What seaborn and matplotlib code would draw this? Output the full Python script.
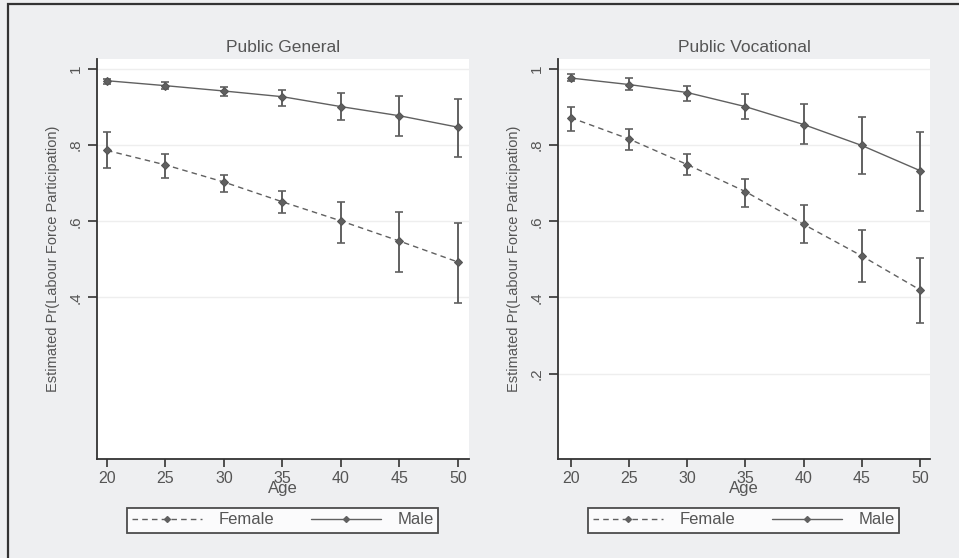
import numpy as np
import pandas as pd
import seaborn as sns
import matplotlib.pyplot as plt
from matplotlib.lines import Line2D
from matplotlib.patches import Rectangle

# values
ages = [20, 25, 30, 35, 40, 45, 50]
panels = ["Public General", "Public Vocational"]

gen_male = [0.969, 0.956, 0.942, 0.927, 0.901, 0.877, 0.847]
gen_male_lo = [0.961, 0.947, 0.929, 0.903, 0.865, 0.823, 0.769]
gen_male_hi = [0.974, 0.965, 0.952, 0.945, 0.936, 0.929, 0.921]
gen_female = [0.786, 0.748, 0.703, 0.651, 0.601, 0.548, 0.493]
gen_female_lo = [0.739, 0.714, 0.677, 0.621, 0.544, 0.466, 0.386]
gen_female_hi = [0.835, 0.777, 0.722, 0.679, 0.651, 0.625, 0.596]

voc_male = [0.976, 0.959, 0.938, 0.901, 0.854, 0.799, 0.733]
voc_male_lo = [0.967, 0.945, 0.916, 0.869, 0.802, 0.723, 0.626]
voc_male_hi = [0.987, 0.975, 0.954, 0.933, 0.908, 0.874, 0.835]
voc_female = [0.872, 0.816, 0.749, 0.678, 0.592, 0.509, 0.420]
voc_female_lo = [0.836, 0.786, 0.721, 0.638, 0.542, 0.440, 0.334]
voc_female_hi = [0.899, 0.841, 0.777, 0.710, 0.642, 0.576, 0.504]

yticks_gen = [0.4, 0.6, 0.8, 1.0]
yticks_voc = [0.2, 0.4, 0.6, 0.8, 1.0]


def tick_label(v):
    return "1" if v == 1 else f"{v:.1f}".lstrip("0")


rows = []
for panel, fem, fem_lo, fem_hi, mal, mal_lo, mal_hi in [
    ("Public General", gen_female, gen_female_lo, gen_female_hi, gen_male, gen_male_lo, gen_male_hi),
    ("Public Vocational", voc_female, voc_female_lo, voc_female_hi, voc_male, voc_male_lo, voc_male_hi),
]:
    for i, a in enumerate(ages):
        rows.append((panel, "Female", a, fem[i], fem_lo[i], fem_hi[i]))
        rows.append((panel, "Male", a, mal[i], mal_lo[i], mal_hi[i]))
df = pd.DataFrame(rows, columns=["panel", "sex", "age", "pr", "lo", "hi"])

sns.set_style("white")
plt.rcParams["font.family"] = ["Liberation Sans", "DejaVu Sans"]

bg = "#eeeff1"
ink = "#555555"
line_col = "#606060"
fig = plt.figure(figsize=(9.59, 5.58), dpi=100, facecolor=bg)

# outer frame (only top and left edges visible in the reference)
fig.patches.append(Rectangle((7.5 / 959, -0.1), 1.2, (558 - 4.5) / 558 + 0.1,
                             transform=fig.transFigure, fill=False,
                             edgecolor="#333333", linewidth=1.6))

positions = [[97 / 959, 99 / 558, 372 / 959, 400 / 558],
             [558 / 959, 99 / 558, 372 / 959, 400 / 558]]
xlims = [(19.15, 50.94), (18.9, 50.86)]
ytick_sets = [yticks_gen, yticks_voc]
legend_centres = [282.5, 743.5]

for k, panel in enumerate(panels):
    ax = fig.add_axes(positions[k])
    ax.set_facecolor("white")
    sub = df[df["panel"] == panel]
    for yv in ytick_sets[k]:
        ax.axhline(yv, color="#eeeeee", linewidth=1, zorder=0)
    for sex in ["Female", "Male"]:
        s = sub[sub["sex"] == sex]
        ax.errorbar(s["age"], s["pr"],
                    yerr=[s["pr"] - s["lo"], s["hi"] - s["pr"]],
                    fmt="none", ecolor=line_col, elinewidth=1.4,
                    capsize=2.7, capthick=1.2, zorder=2)
    sns.lineplot(data=sub, x="age", y="pr", hue="sex", style="sex",
                 palette={"Female": line_col, "Male": line_col},
                 dashes={"Female": (4, 3), "Male": ""},
                 markers={"Female": "D", "Male": "D"}, markersize=3.8,
                 markeredgecolor="#555555", linewidth=1.0, ax=ax,
                 legend=False, zorder=3)
    ax.set_xlim(*xlims[k])
    ax.set_ylim(-0.024, 1.026)
    ax.set_xticks(ages)
    ax.set_xticklabels([str(a) for a in ages], fontsize=11.5, color=ink)
    ax.set_yticks(ytick_sets[k])
    ax.set_yticklabels([tick_label(v) for v in ytick_sets[k]],
                       rotation=90, va="center", fontsize=11, color=ink)
    ax.tick_params(axis="x", length=5.5, width=1.2, color="#333333", pad=3, bottom=True)
    ax.tick_params(axis="y", length=6.5, width=1.2, color="#333333", pad=4, left=True)
    for side in ["top", "right"]:
        ax.spines[side].set_visible(False)
    for side in ["left", "bottom"]:
        ax.spines[side].set_color("#333333")
        ax.spines[side].set_linewidth(1.3)
    ax.set_xlabel("Age", fontsize=12, color=ink)
    ax.xaxis.label.set_va("center")
    ax.xaxis.set_label_coords(0.5, -0.075)
    ax.set_ylabel("Estimated Pr(Labour Force Participation)", fontsize=10.5,
                  color=ink)
    ax.yaxis.label.set_va("center")
    ax.yaxis.set_label_coords(-0.118, 0.5)
    ax.set_title(panel, fontsize=12.5, color=ink, pad=5)

    handles = [Line2D([], [], color=line_col, linestyle=(0, (4, 3)), marker="D",
                      markersize=3, linewidth=1.0),
               Line2D([], [], color=line_col, linestyle="-", marker="D",
                      markersize=3, linewidth=1.0)]
    leg = fig.legend(handles, ["Female", "Male"], ncol=2,
                     loc="center", bbox_to_anchor=(legend_centres[k] / 959, 1 - 520 / 558),
                     fontsize=12, frameon=True, fancybox=False,
                     handlelength=4.2, columnspacing=2.2, handletextpad=1.0,
                     borderpad=0.3, labelcolor=ink)
    leg.get_frame().set_edgecolor("#222222")
    leg.get_frame().set_linewidth(1.3)

fig.savefig("out.png", dpi=100, facecolor=bg)
